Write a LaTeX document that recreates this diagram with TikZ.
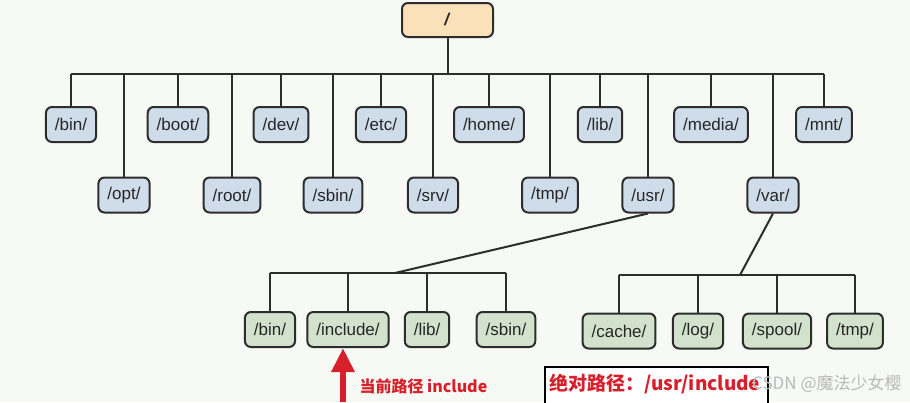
\documentclass[tikz,border=0pt]{standalone}
\usepackage{fontspec}
\setmainfont{Liberation Sans}
\newfontfamily\cjkfont{Noto Sans CJK SC}
\usetikzlibrary{arrows.meta}
\definecolor{bgc}{RGB}{247,249,245}
\definecolor{blueb}{RGB}{206,221,233}
\definecolor{greenb}{RGB}{210,226,204}
\definecolor{orangeb}{RGB}{250,225,186}
\definecolor{linec}{RGB}{45,45,45}
\definecolor{redc}{RGB}{214,32,44}
\definecolor{wmc}{RGB}{185,185,185}
\tikzset{
  dirbox/.style={draw=linec, line width=2pt, rounded corners=6pt, minimum height=35pt,
    inner xsep=9pt, font=\fontsize{17}{19}\selectfont, text=black!85},
  topbox/.style={dirbox, fill=blueb},
  subbox/.style={dirbox, fill=greenb},
  rootbox/.style={dirbox, fill=orangeb, minimum width=91pt, minimum height=34pt},
  conn/.style={draw=linec, line width=2pt},
}
\begin{document}
\begin{tikzpicture}[x=1pt,y=-1pt]
\useasboundingbox (0,0) rectangle (910,402);
\fill[bgc] (0,0) rectangle (910,402);

\node[rootbox] (root) at (447.5,20) {\textit{\textbf{/}}};

% row 1
\node[topbox] (bin) at (71,124.5) {/bin/};
\node[topbox] (boot) at (178,124.5) {/boot/};
\node[topbox] (dev) at (281,124.5) {/dev/};
\node[topbox] (etc) at (381,124.5) {/etc/};
\node[topbox] (home) at (489,124.5) {/home/};
\node[topbox] (lib) at (600,124.5) {/lib/};
\node[topbox] (media) at (711,124.5) {/media/};
\node[topbox] (mnt) at (824,124.5) {/mnt/};
% row 2
\node[topbox] (opt) at (124,195) {/opt/};
\node[topbox] (rootd) at (232,195) {/root/};
\node[topbox] (sbin) at (333,195) {/sbin/};
\node[topbox] (srv) at (433,195) {/srv/};
\node[topbox] (tmp) at (550,195) {/tmp/};
\node[topbox] (usr) at (648,195) {/usr/};
\node[topbox] (var) at (773,195) {/var/};

\coordinate (bus) at (447.5,74);
\draw[conn] (root.south) -- (bus);
\draw[conn] (bin.north |- bus) -- (mnt.north |- bus);
\foreach \n in {bin,boot,dev,etc,home,lib,media,mnt,opt,rootd,sbin,srv,tmp,usr,var}
  \draw[conn] (\n.north) -- (\n.north |- bus);

% usr children
\node[subbox] (ubin) at (270,329.5) {/bin/};
\node[subbox] (uinc) at (348,329.5) {/include/};
\node[subbox] (ulib) at (427,329.5) {/lib/};
\node[subbox] (usbin) at (506,329.5) {/sbin/};
\coordinate (ubus) at (395,273);
\draw[conn] (usr.south) -- (ubus);
\draw[conn] (ubin.north |- ubus) -- (usbin.north |- ubus);
\foreach \n in {ubin,uinc,ulib,usbin}
  \draw[conn] (\n.north) -- (\n.north |- ubus);

% var children
\node[subbox] (vcache) at (619,331) {/cache/};
\node[subbox] (vlog) at (698,331) {/log/};
\node[subbox] (vspool) at (777,331) {/spool/};
\node[subbox] (vtmp) at (855,331) {/tmp/};
\coordinate (vbus) at (740,275);
\draw[conn] (var.south) -- (vbus);
\draw[conn] (vcache.north |- vbus) -- (vtmp.north |- vbus);
\foreach \n in {vcache,vlog,vspool,vtmp}
  \draw[conn] (\n.north) -- (\n.north |- vbus);

% current path arrow
\coordinate (arrowfoot) at (343,402);
\draw[redc, line width=6pt, -{Triangle[width=22pt,length=24pt]}] (arrowfoot) -- (arrowfoot |- uinc.south);
\node[anchor=west, text=redc, font=\cjkfont\bfseries\fontsize{16}{18}\selectfont] (curlbl) at (356,386) {当前路径 include};

% absolute path box
\fill[white] (545,367) rectangle (768,402);
\draw[black, line width=1.2pt] (545,403) -- (545,367) -- (768,367) -- (768,403);
\node[anchor=west, text=redc, font=\cjkfont\bfseries\fontsize{19}{21}\selectfont, inner xsep=0pt] (abslbl) at (549,384) {绝对路径：/usr/include};

% watermark
\node[anchor=west, text=wmc, font=\cjkfont\fontsize{17}{19}\selectfont, inner xsep=0pt] (wm) at (752,384) {CSDN @魔法少女樱};
\end{tikzpicture}
\end{document}
